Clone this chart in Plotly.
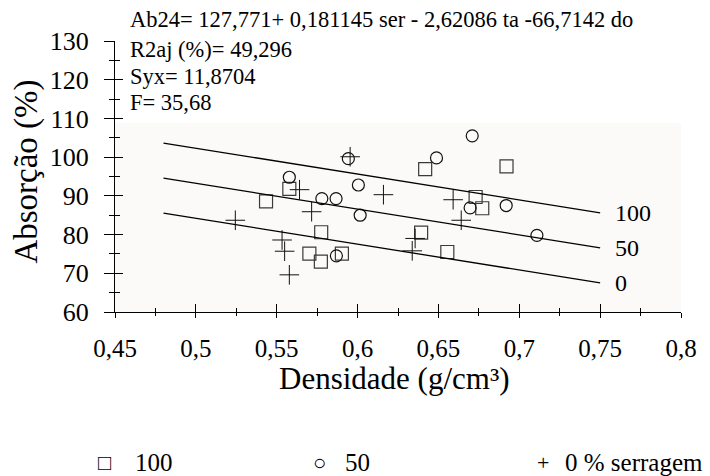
import plotly.graph_objects as go

# ---- data ----
dens_100 = [0.5434, 0.5578, 0.5775, 0.5702, 0.5773, 0.5903, 0.6418, 0.6393, 0.6555, 0.6730, 0.6771, 0.6921]
abs_100 = [88.6, 91.8, 80.6, 75.1, 73.0, 75.1, 96.9, 80.5, 75.5, 89.7, 86.8, 97.6]

dens_50 = [0.5578, 0.5943, 0.6005, 0.5779, 0.5867, 0.6016, 0.5869, 0.6488, 0.6709, 0.6696, 0.6919, 0.7109]
abs_50 = [94.8, 99.6, 92.8, 89.3, 89.3, 85.0, 74.5, 99.8, 105.5, 86.9, 87.5, 79.8]

dens_0 = [0.5244, 0.5533, 0.5549, 0.5578, 0.5641, 0.5716, 0.5954, 0.6160, 0.6356, 0.6338, 0.6591, 0.6641]
abs_0 = [83.7, 78.6, 75.7, 69.6, 91.6, 85.9, 100.1, 90.3, 79.0, 75.8, 89.0, 83.7]

# regression: Ab24 = b0 + b_ser*ser + b_ta*ta + b_do*do
b0, b_ser, b_ta, b_do = 127.771, 0.181145, -2.62086, -66.7142
ta_value = 3.9          # estimated from the drawn lines
ser_levels = [100, 50, 0]
line_x = [0.48, 0.75]

x_ticks = [0.45, 0.5, 0.55, 0.6, 0.65, 0.7, 0.75, 0.8]
x_ticklabels = ["0,45", "0,5", "0,55", "0,6", "0,65", "0,7", "0,75", "0,8"]
y_ticks = [60, 70, 80, 90, 100, 110, 120, 130]
y_ticklabels = ["60", "70", "80", "90", "100", "110", "120", "130"]

stats_lines = [
    "Ab24= 127,771+ 0,181145 ser - 2,62086 ta -66,7142 do",
    "R2aj (%)= 49,296",
    "Syx= 11,8704",
    "F= 35,68",
]
legend_symbols = ["□", "○", "+"]
legend_labels = ["100", "50", "0 % serragem"]

FONT = "Liberation Serif"

fig = go.Figure()

fig.add_trace(go.Scatter(x=dens_100, y=abs_100, mode="markers",
                         marker=dict(symbol="square-open", size=13, color="#3a3a3a",
                                     line=dict(width=1.2)),
                         hoverinfo="skip"))
fig.add_trace(go.Scatter(x=dens_50, y=abs_50, mode="markers",
                         marker=dict(symbol="circle-open", size=12, color="#111111",
                                     line=dict(width=1.2)),
                         hoverinfo="skip"))
fig.add_trace(go.Scatter(x=dens_0, y=abs_0, mode="markers",
                         marker=dict(symbol="cross-thin-open", size=14, color="#111111",
                                     line=dict(width=1)),
                         hoverinfo="skip"))

for ser in ser_levels:
    ly = [b0 + b_ser * ser + b_ta * ta_value + b_do * x for x in line_x]
    fig.add_trace(go.Scatter(x=line_x, y=ly, mode="lines",
                             line=dict(color="black", width=1.3), hoverinfo="skip"))
    fig.add_annotation(x=0.758, y=ly[-1], xref="x", yref="y", text=str(ser),
                       showarrow=False, xanchor="left", yanchor="middle",
                       font=dict(family=FONT, size=24, color="black"))

# invisible trace for the overlay axes (crossing ticks)
fig.add_trace(go.Scatter(x=[x_ticks[0]], y=[y_ticks[0]], xaxis="x2", yaxis="y2",
                         mode="markers", marker=dict(opacity=0), hoverinfo="skip"))

# white band at the top of the plot area (where the statistics text sits)
fig.add_shape(type="rect", xref="paper", yref="y", x0=0, x1=1, y0=108.9, y1=130,
              fillcolor="white", line=dict(width=0), layer="below")

# statistics text
stat_y = [20, 50, 77, 103]
for txt, py in zip(stats_lines, stat_y):
    fig.add_annotation(x=(128 - 115) / 565.7, y=(312.5 - py) / 271.25, xref="paper", yref="paper",
                       text=txt, showarrow=False, xanchor="left", yanchor="middle",
                       font=dict(family=FONT, size=22.5, color="black"))

# axis titles
fig.add_annotation(x=(394 - 115) / 565.7, y=(312.5 - 379) / 271.25, xref="paper", yref="paper",
                   text="Densidade (g/cm³)", showarrow=False, xanchor="center", yanchor="middle",
                   font=dict(family=FONT, size=31, color="black"))
fig.add_annotation(x=(27 - 115) / 565.7, y=(312.5 - 172) / 271.25, xref="paper", yref="paper",
                   text="Absorção (%)", showarrow=False, xanchor="center", yanchor="middle",
                   textangle=-90, font=dict(family=FONT, size=33, color="black"))

# legend row
sym_x = [105, 319, 543]
lab_x = [133, 343, 563]
for s, l, sx, lx in zip(legend_symbols, legend_labels, sym_x, lab_x):
    fig.add_annotation(x=(sx - 115) / 565.7, y=(312.5 - 463) / 271.25, xref="paper", yref="paper",
                       text=s, showarrow=False, xanchor="center", yanchor="middle",
                       font=dict(family=FONT, size=22, color="black"))
    fig.add_annotation(x=(lx - 115) / 565.7, y=(312.5 - 463) / 271.25, xref="paper", yref="paper",
                       text=l, showarrow=False, xanchor="left", yanchor="middle",
                       font=dict(family=FONT, size=25, color="black"))

axis_common = dict(showgrid=False, zeroline=False, tickcolor="black", tickwidth=1.3)

fig.update_layout(
    width=710, height=476,
    margin=dict(l=115, r=29, t=41, b=163.5, pad=0),
    paper_bgcolor="white",
    plot_bgcolor="#fbfaf8",
    showlegend=False,
    xaxis=dict(range=[0.45, 0.8], tickmode="array", tickvals=x_ticks, ticktext=x_ticklabels,
               ticks="outside", ticklen=5, showline=True, linecolor="black", linewidth=1.3,
               tickfont=dict(family=FONT, size=25, color="black"), ticklabelstandoff=9,
               minor=dict(tick0=0.475, dtick=0.05, ticks="outside", ticklen=3,
                          tickcolor="black", tickwidth=1.2),
               **axis_common),
    yaxis=dict(range=[60, 130], tickmode="array", tickvals=y_ticks, ticktext=y_ticklabels,
               ticks="outside", ticklen=10, showline=True, linecolor="black", linewidth=1.3,
               tickfont=dict(family=FONT, size=26, color="black"), ticklabelstandoff=10,
               minor=dict(tick0=65, dtick=10, ticks="outside", ticklen=5,
                          tickcolor="black", tickwidth=1.2),
               **axis_common),
    xaxis2=dict(range=[0.45, 0.8], overlaying="x", anchor="y2", side="bottom",
                tickmode="array", tickvals=x_ticks, ticks="inside", ticklen=8,
                showticklabels=False, showline=False,
                minor=dict(tick0=0.475, dtick=0.05, ticks="inside", ticklen=4,
                           tickcolor="black", tickwidth=1.2),
                **axis_common),
    yaxis2=dict(range=[60, 130], overlaying="y", anchor="x2", side="left",
                tickmode="array", tickvals=y_ticks, ticks="inside", ticklen=8,
                showticklabels=False, showline=False,
                minor=dict(tick0=65, dtick=10, ticks="inside", ticklen=5,
                           tickcolor="black", tickwidth=1.2),
                **axis_common),
)

fig.write_html("out.html")
